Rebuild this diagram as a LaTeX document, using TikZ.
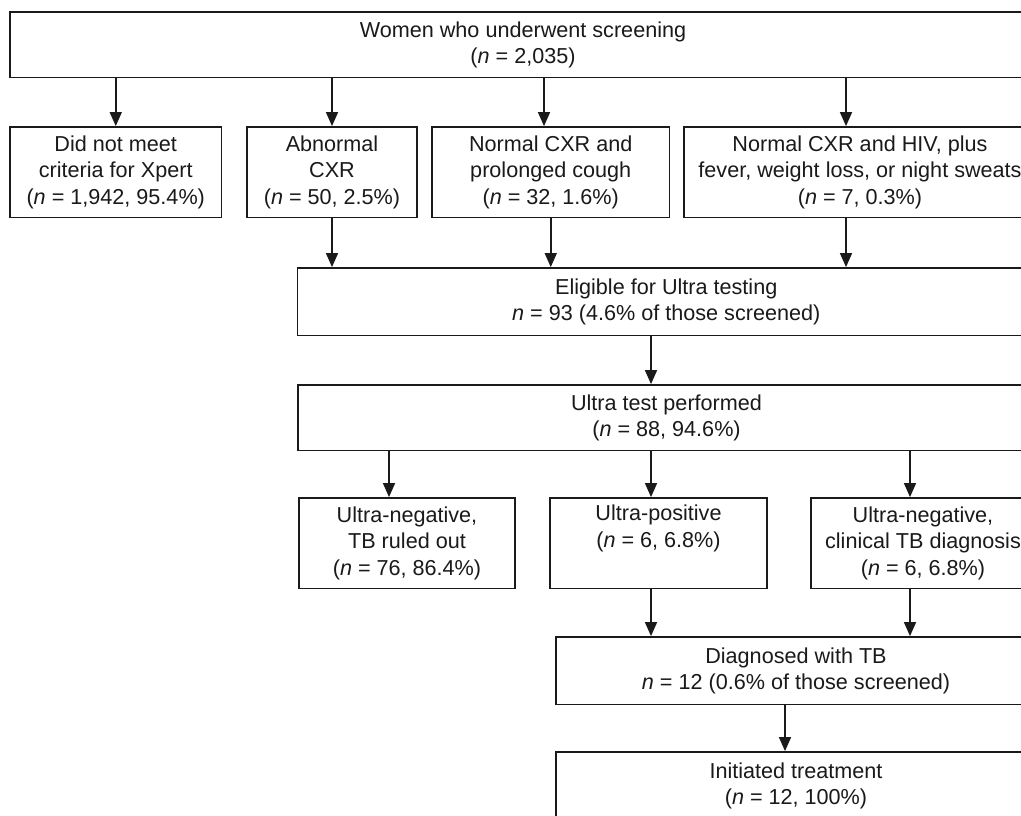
\documentclass[tikz,border=0pt]{standalone}
\usepackage{fontspec}
\setmainfont{Liberation Sans}
\usetikzlibrary{arrows.meta}
\definecolor{ink}{HTML}{1A1A1A}

\begin{document}
\begin{tikzpicture}[x=0.02cm,y=-0.02cm,
  box/.style={draw=ink,line width=1pt,align=center,inner sep=0pt,text=ink,
    font=\fontsize{12.3}{15}\selectfont},
  arr/.style={draw=ink,line width=1pt,-{Triangle[length=8pt,width=6.8pt]}}]
\fill[white] (0,0) rectangle (1021,815);
\clip (0,0) rectangle (1021,815);
% screening
\node[box,minimum width=20.52cm,minimum height=1.31cm] (screen) at (523,44.75)
  {Women who underwent screening\\(\textit{n} = 2,035)};
% first split
\node[box,minimum width=4.23cm,minimum height=1.81cm] (nocrit) at (115.75,172.25)
  {Did not meet\\criteria for Xpert\\(\textit{n} = 1,942, 95.4\%)};
\node[box,minimum width=3.4cm,minimum height=1.81cm] (abncxr) at (332,172.25)
  {Abnormal\\CXR\\(\textit{n} = 50, 2.5\%)};
\node[box,minimum width=4.75cm,minimum height=1.81cm] (cough) at (550.75,172.25)
  {Normal CXR and\\prolonged cough\\(\textit{n} = 32, 1.6\%)};
\node[box,minimum width=7.04cm,minimum height=1.81cm] (hiv) at (860,172.25)
  {Normal CXR and HIV, plus\\fever, weight loss, or night sweats\\(\textit{n} = 7, 0.3\%)};
\draw[arr] (nocrit.north |- screen.south) -- (nocrit.north);
\draw[arr] (abncxr.north |- screen.south) -- (abncxr.north);
\draw[arr] ([xshift=-0.135cm]cough.north |- screen.south) -- ([xshift=-0.135cm]cough.north);
\draw[arr] ([xshift=-0.28cm]hiv.north |- screen.south) -- ([xshift=-0.28cm]hiv.north);
% eligible
\node[box,minimum width=14.75cm,minimum height=1.35cm] (elig) at (666.25,301.75)
  {Eligible for Ultra testing\\\textit{n} = 93 (4.6\% of those screened)};
\draw[arr] (abncxr.south) -- (abncxr.south |- elig.north);
\draw[arr] (cough.south) -- (cough.south |- elig.north);
\draw[arr] ([xshift=-0.28cm]hiv.south) -- ([xshift=-0.28cm]hiv.south |- elig.north);
% tested
\node[box,minimum width=14.74cm,minimum height=1.31cm] (ultra) at (666.5,417.75)
  {Ultra test performed\\(\textit{n} = 88, 94.6\%)};
\draw[arr] ([xshift=-0.305cm]elig.south) -- ([xshift=-0.305cm]elig.south |- ultra.north);
% results
\node[box,minimum width=4.32cm,minimum height=1.81cm] (neg) at (407,543.25)
  {Ultra-negative,\\TB ruled out\\(\textit{n} = 76, 86.4\%)};
\node[box,minimum width=4.34cm,minimum height=1.81cm] (pos) at (658.5,543.25)
  {Ultra-positive\\(\textit{n} = 6, 6.8\%)\\\strut};
\node[box,minimum width=4.48cm,minimum height=1.81cm] (clin) at (923,543.25)
  {Ultra-negative,\\clinical TB diagnosis\\(\textit{n} = 6, 6.8\%)};
\draw[arr] ([xshift=-0.36cm]neg.north |- ultra.south) -- ([xshift=-0.36cm]neg.north);
\draw[arr] ([xshift=-0.15cm]pos.north |- ultra.south) -- ([xshift=-0.15cm]pos.north);
\draw[arr] ([xshift=-0.26cm]clin.north |- ultra.south) -- ([xshift=-0.26cm]clin.north);
% diagnosis and treatment
\node[box,minimum width=9.6cm,minimum height=1.35cm] (diag) at (796,670.75)
  {Diagnosed with TB\\\textit{n} = 12 (0.6\% of those screened)};
\draw[arr] ([xshift=-0.15cm]pos.south) -- ([xshift=-0.15cm]pos.south |- diag.north);
\draw[arr] ([xshift=-0.26cm]clin.south) -- ([xshift=-0.26cm]clin.south |- diag.north);
\node[box,minimum width=9.6cm,minimum height=1.36cm] (init) at (796,786)
  {Initiated treatment\\(\textit{n} = 12, 100\%)};
\draw[arr] ([xshift=-0.22cm]diag.south) -- ([xshift=-0.22cm]diag.south |- init.north);
\end{tikzpicture}
\end{document}
